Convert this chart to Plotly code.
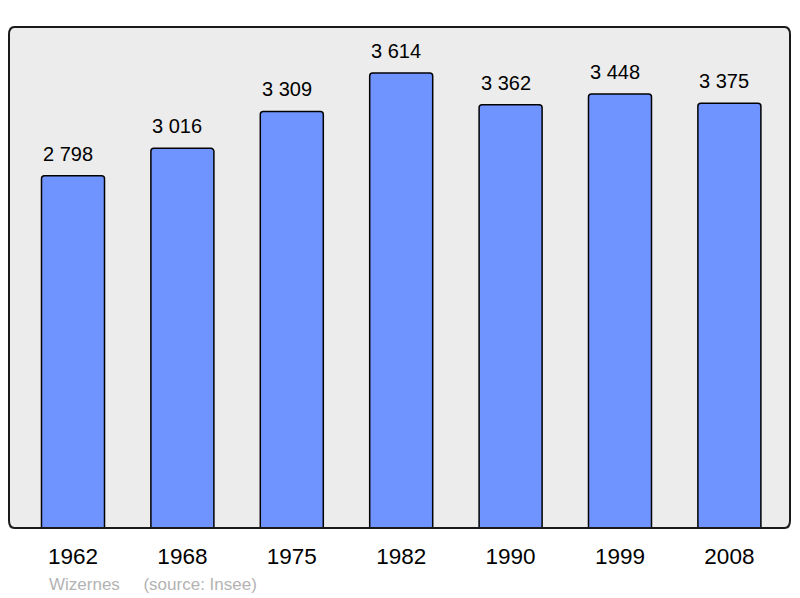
import plotly.graph_objects as go

years = ["1962", "1968", "1975", "1982", "1990", "1999", "2008"]
population = [2798, 3016, 3309, 3614, 3362, 3448, 3375]
commune = "Wizernes"
source = "(source: Insee)"

def fmt(v):
    return f"{v:,}".replace(",", " ")

# page body has an 8px default margin: draw the figure 8px smaller so it fits the window
OFF = 8

fig = go.Figure()
fig.add_trace(go.Bar(
    x=years, y=population,
    width=0.576,
    marker=dict(color="#7094ff", line=dict(color="#000000", width=1.5), cornerradius=3),
    hoverinfo="x+y",
))

for i, v in enumerate(population):
    fig.add_annotation(x=i, y=v, text=fmt(v), showarrow=False, yanchor="bottom",
                       yshift=9, xshift=-5,
                       font=dict(size=20, color="#000000", family="Liberation Sans, Arial"))

fig.add_annotation(xref="paper", yref="paper", x=(47 - 9) / 781, y=-(573 - 528) / 501,
                   xanchor="left", yanchor="top",
                   text=f"{commune}&nbsp;&nbsp;&nbsp;&nbsp;&nbsp;{source}", showarrow=False,
                   font=dict(size=17, color="#b3b3b3", family="Liberation Sans, Arial"))

fig.add_shape(type="path", xref="paper", yref="paper", layer="above",
              path="M 0,0.985 Q 0,1 0.007,1 L 0.993,1 Q 1,1 1,0.985 L 1,0.015 Q 1,0 0.993,0 L 0.007,0 Q 0,0 0,0.015 Z",
              line=dict(color="#1a1a1a", width=2))

fig.update_layout(
    width=800 - OFF, height=598 - OFF,
    margin=dict(l=9 - OFF, r=10, t=27 - OFF, b=70, autoexpand=False),
    paper_bgcolor="#ffffff", plot_bgcolor="#ececec",
    showlegend=False,
    font=dict(family="Liberation Sans, Arial", color="#000000"),
    xaxis=dict(type="category", range=[-0.585, 6.554], showgrid=False, zeroline=False, showline=False,
               tickfont=dict(size=22.5, color="#000000"), ticks="", ticklabelstandoff=12),
    yaxis=dict(range=[0, 3980], showgrid=False, zeroline=False, showline=False,
               showticklabels=False, ticks=""),
)

fig.write_html("out.html")
